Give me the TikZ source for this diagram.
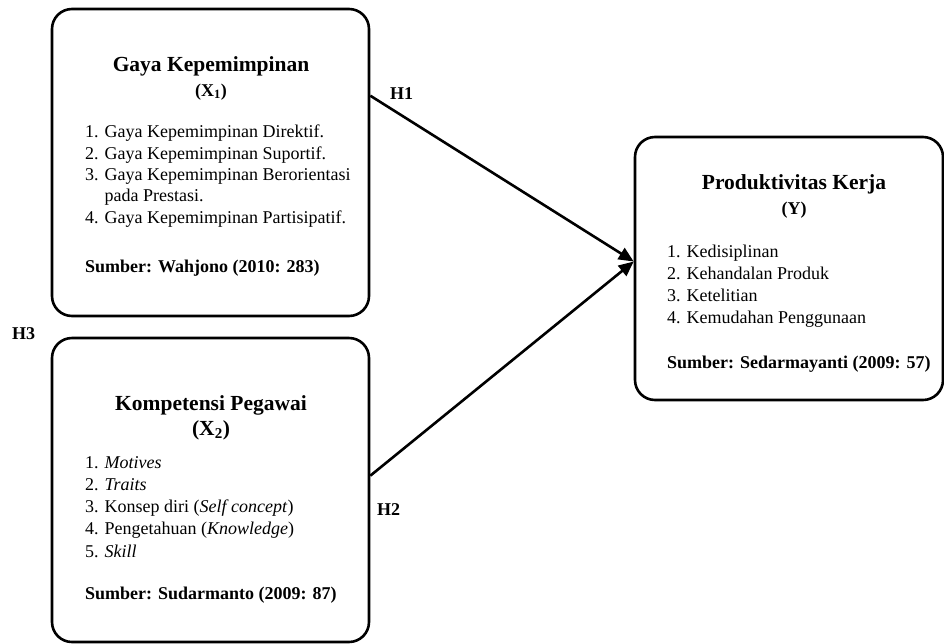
\documentclass[tikz,border=0pt]{standalone}
\usepackage{fontspec}
\setmainfont{Liberation Serif}
\usetikzlibrary{arrows.meta,calc}
\begin{document}
\begin{tikzpicture}[x=1pt,y=-1pt,
  box/.style={draw,line width=2.6pt,rounded corners=20pt,inner sep=0pt},
  ttl/.style={font=\fontsize{21.5}{24}\selectfont\bfseries,anchor=base,inner sep=0pt},
  sub/.style={font=\fontsize{18}{21}\selectfont\bfseries,anchor=base,inner sep=0pt},
  lst/.style={font=\fontsize{18}{#1}\selectfont,anchor=base west,align=left,inner sep=0pt},
  src/.style={font=\fontsize{18}{21}\selectfont\bfseries,anchor=base west,inner sep=0pt},
  hlab/.style={font=\fontsize{18}{21}\selectfont\bfseries,anchor=base west,inner sep=0pt},
  arr/.style={line width=2.6pt,-{Triangle[length=15pt,width=13pt]}}]
\useasboundingbox (0,0) rectangle (944,643);
% boxes
\node[box,minimum width=317pt,minimum height=307pt] (b1) at (210.5,162.5) {};
\node[box,minimum width=317pt,minimum height=304pt] (b2) at (210.5,490) {};
\node[box,minimum width=308pt,minimum height=263pt] (b3) at (789,268.5) {};
% box 1 text (list anchored at its last baseline)
\node[ttl] (t1) at (211,71) {Gaya Kepemimpinan};
\node[sub] (s1) at (211,96) {(X\textsubscript{1})};
\node[lst=21.3] (l1) at (85,223) {1. Gaya Kepemimpinan Direktif.\\2. Gaya Kepemimpinan Suportif.\\3. Gaya Kepemimpinan Berorientasi\\\phantom{3. }pada Prestasi.\\4. Gaya Kepemimpinan Partisipatif.};
\node[src] (r1) at (85,272) {Sumber: Wahjono (2010: 283)};
% box 2 text
\node[ttl] (t2) at (211,410) {Kompetensi Pegawai};
\node[ttl] (s2) at (211,435) {(X\textsubscript{2})};
\node[lst=22.2] (l2) at (85,557) {1. \textit{Motives}\\2. \textit{Traits}\\3. Konsep diri (\textit{Self concept})\\4. Pengetahuan (\textit{Knowledge})\\5. \textit{Skill}};
\node[src] (r2) at (85,599) {Sumber: Sudarmanto (2009: 87)};
% box 3 text
\node[ttl] (t3) at (794,189) {Produktivitas Kerja};
\node[sub] (s3) at (794,214) {(Y)};
\node[lst=22] (l3) at (667,323) {1. Kedisiplinan\\2. Kehandalan Produk\\3. Ketelitian\\4. Kemudahan Penggunaan};
\node[src] (r3) at (667,368) {Sumber: Sedarmayanti (2009: 57)};
% hypothesis labels
\node[hlab] (h1) at (390,99) {H1};
\node[hlab] (h2) at (377,515) {H2};
\node[hlab] (h3) at (12,339) {H3};
% arrows
\draw[arr] ($(b1.north east)+(0,88)$) -- ($(b3.west)+(0,-7)$);
\draw[arr] ($(b2.north east)+(0,139)$) -- ($(b3.west)+(0,-7)$);
\end{tikzpicture}
\end{document}
